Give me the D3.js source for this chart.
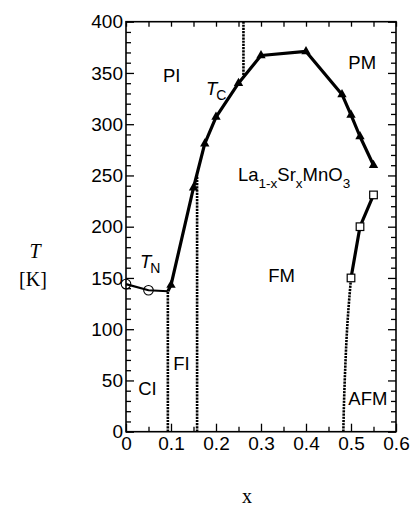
<!DOCTYPE html>
<html><head><meta charset="utf-8">
<script src="https://cdn.jsdelivr.net/npm/d3@7"></script>
<style>
body{margin:0;background:#fff;}
svg{display:block;}
.ax text{font-family:"Liberation Sans",Arial,sans-serif;font-size:19px;fill:#000;}
.ax path,.ax line{stroke:#000;stroke-width:1.3;}
.lbl{font-family:"Liberation Sans",Arial,sans-serif;font-size:18.5px;fill:#000;}
.serif{font-family:"Liberation Serif","Times New Roman",serif;font-size:20px;fill:#000;}
</style></head>
<body>
<svg id="c" width="410" height="506"></svg>
<script>
// ---- data ----
const xTickValues = [0, 0.1, 0.2, 0.3, 0.4, 0.5, 0.6];
const xTickLabels = ["0", "0.1", "0.2", "0.3", "0.4", "0.5", "0.6"];
const yTickValues = [0, 50, 100, 150, 200, 250, 300, 350, 400];
const yTickLabels = ["0", "50", "100", "150", "200", "250", "300", "350", "400"];

// Curie temperature T_C (triangles), first point is the junction with T_N line
const tcX = [0.093, 0.10, 0.15, 0.175, 0.20, 0.25, 0.30, 0.40, 0.48, 0.50, 0.52, 0.55];
const tcT = [137, 143, 238, 281, 307, 340, 367, 371, 329, 309, 288, 260];
const tcMarked = [false, true, true, true, true, true, true, true, true, true, true, true];

// Neel temperature T_N (open circles)
const tnX = [0, 0.05, 0.093];
const tnT = [144, 138, 137];
const tnMarked = [true, true, false];

// AFM boundary (open squares) and its lower extension
const afmX = [0.50, 0.52, 0.55];
const afmT = [150, 200, 231];
const afmLowX = [0.483, 0.484, 0.487, 0.492, 0.50];
const afmLowT = [0, 21, 60, 105, 150];

// vertical dotted phase boundaries
const vLineX = [0.093, 0.158, 0.261];
const vLineT0 = [0, 0, 345];
const vLineT1 = [137, 250, 400];

// region labels
const regionNames = ["PI", "PM", "FM", "FI", "CI", "AFM"];
const regionX = [0.082, 0.494, 0.316, 0.105, 0.027, 0.494];
const regionT = [341, 354, 146, 60, 36, 26];

// ---- drawing ----
const svg = d3.select("#c");
const L = 126, R = 396, T = 21.7, B = 431.7;
const x = d3.scaleLinear().domain([0, 0.6]).range([L, R]);
const y = d3.scaleLinear().domain([0, 400]).range([B, T]);

const xMinor = d3.range(0, 0.6001, 0.05).filter(v => Math.abs(Math.round(v * 10) - v * 10) > 0.01);
const yMinor = d3.range(0, 401, 10).filter(v => v % 50 !== 0);
const xAll = d3.range(0, 0.6001, 0.05);

// frame
svg.append("rect").attr("x", L).attr("y", T).attr("width", R - L).attr("height", B - T)
  .attr("fill", "none").attr("stroke", "#000").attr("stroke-width", 1.6);

// axes
const gB = svg.append("g").attr("class", "ax").attr("transform", `translate(0,${B})`)
  .call(d3.axisBottom(x).tickValues(xTickValues).tickSize(-8).tickPadding(5)
    .tickFormat((d, i) => xTickLabels[i]));
svg.append("g").attr("class", "ax").attr("transform", `translate(0,${B})`)
  .call(d3.axisBottom(x).tickValues(xMinor).tickSize(-5).tickFormat(""));
svg.append("g").attr("class", "ax").attr("transform", `translate(0,${T})`)
  .call(d3.axisTop(x).tickValues(xAll).tickSize(-5).tickFormat(""));
svg.append("g").attr("class", "ax").attr("transform", `translate(${L},0)`)
  .call(d3.axisLeft(y).tickValues(yTickValues).tickSize(-8).tickPadding(3)
    .tickFormat((d, i) => yTickLabels[i]));
svg.append("g").attr("class", "ax").attr("transform", `translate(${L},0)`)
  .call(d3.axisLeft(y).tickValues(yMinor).tickSize(-5).tickFormat(""));
svg.append("g").attr("class", "ax").attr("transform", `translate(${R},0)`)
  .call(d3.axisRight(y).tickValues(yTickValues).tickSize(-8).tickFormat(""));
svg.append("g").attr("class", "ax").attr("transform", `translate(${R},0)`)
  .call(d3.axisRight(y).tickValues(yMinor).tickSize(-5).tickFormat(""));
svg.selectAll(".ax .domain").remove();

// vertical dotted lines
svg.append("g").selectAll("line").data(vLineX).join("line")
  .attr("x1", d => x(d)).attr("x2", d => x(d))
  .attr("y1", (d, i) => y(vLineT0[i])).attr("y2", (d, i) => y(vLineT1[i]))
  .attr("stroke", "#000").attr("stroke-width", 2.6).attr("stroke-dasharray", "2.2,1");

const line = d3.line().x(d => x(d[0])).y(d => y(d[1]));

// AFM lower boundary (dashed)
svg.append("path").datum(afmLowX.map((v, i) => [v, afmLowT[i]]))
  .attr("d", line.curve(d3.curveMonotoneY)).attr("fill", "none").attr("stroke", "#000")
  .attr("stroke-width", 2.6).attr("stroke-dasharray", "2.2,1");
line.curve(d3.curveLinear);

// AFM solid line
svg.append("path").datum(afmX.map((v, i) => [v, afmT[i]]))
  .attr("d", line).attr("fill", "none").attr("stroke", "#000").attr("stroke-width", 3.2);

// TN line
svg.append("path").datum(tnX.map((v, i) => [v, tnT[i]]))
  .attr("d", line).attr("fill", "none").attr("stroke", "#000").attr("stroke-width", 2.2);

// Tc line
svg.append("path").datum(tcX.map((v, i) => [v, tcT[i]]))
  .attr("d", line).attr("fill", "none").attr("stroke", "#000").attr("stroke-width", 3.2)
  .attr("stroke-linejoin", "round");

// triangles
const tri = d3.symbol().type(d3.symbolTriangle).size(38);
svg.append("g").selectAll("path").data(tcX.map((v, i) => [v, tcT[i]]).filter((d, i) => tcMarked[i]))
  .join("path").attr("d", tri).attr("transform", d => `translate(${x(d[0])},${y(d[1])})`)
  .attr("fill", "#000");

// circles
svg.append("g").selectAll("circle").data(tnX.map((v, i) => [v, tnT[i]]).filter((d, i) => tnMarked[i]))
  .join("circle").attr("cx", d => x(d[0])).attr("cy", d => y(d[1])).attr("r", 4.8)
  .attr("fill", "none").attr("stroke", "#000").attr("stroke-width", 1.1);

// squares
svg.append("g").selectAll("rect").data(afmX.map((v, i) => [v, afmT[i]]))
  .join("rect").attr("x", d => x(d[0]) - 3.8).attr("y", d => y(d[1]) - 3.8)
  .attr("width", 7.6).attr("height", 7.6)
  .attr("fill", "#fff").attr("stroke", "#000").attr("stroke-width", 1.2);

// region labels
svg.append("g").selectAll("text").data(regionNames).join("text").attr("class", "lbl")
  .attr("x", (d, i) => x(regionX[i])).attr("y", (d, i) => y(regionT[i]))
  .text(d => d);

// T_C and T_N labels
function tLabel(px, py, sub) {
  const t = svg.append("text").attr("class", "lbl").attr("x", px).attr("y", py);
  t.append("tspan").attr("font-style", "italic").text("T");
  t.append("tspan").attr("font-size", "14px").attr("dy", 5).attr("dx", -1).text(sub);
}
tLabel(206, 95, "C");
tLabel(140, 268, "N");

// compound formula
const f = svg.append("text").attr("class", "lbl").attr("x", 238).attr("y", 181);
f.append("tspan").text("La");
f.append("tspan").attr("font-size", "13.5px").attr("dy", 7).text("1-x");
f.append("tspan").attr("dy", -7).text("Sr");
f.append("tspan").attr("font-size", "13.5px").attr("dy", 7).text("x");
f.append("tspan").attr("dy", -7).text("MnO");
f.append("tspan").attr("font-size", "13.5px").attr("dy", 7).text("3");

// axis titles
svg.append("text").attr("class", "serif").attr("x", 35).attr("y", 258)
  .attr("text-anchor", "middle").attr("font-style", "italic").text("T");
svg.append("text").attr("class", "serif").attr("x", 33).attr("y", 286)
  .attr("text-anchor", "middle").text("[K]");
svg.append("text").attr("class", "serif").attr("x", 247).attr("y", 503)
  .attr("text-anchor", "middle").text("x");
</script>
</body></html>
